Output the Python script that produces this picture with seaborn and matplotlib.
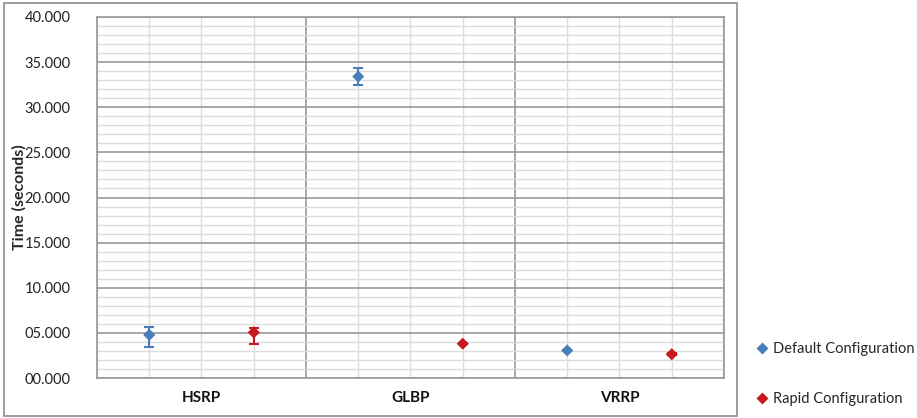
import matplotlib
matplotlib.use("Agg")
import matplotlib.pyplot as plt
from matplotlib.patches import Rectangle
from matplotlib.lines import Line2D
from matplotlib.ticker import MultipleLocator, FuncFormatter
import seaborn as sns
import pandas as pd
import numpy as np

# Failover times per protocol (seconds)
protocols = ["HSRP", "GLBP", "VRRP"]
configs = ["Default Configuration", "Rapid Configuration"]
default_mean = [4.78, 33.40, 3.05]
default_err_low = [1.40, 0.95, 0.10]
default_err_high = [0.90, 1.00, 0.10]
rapid_mean = [5.05, 3.80, 2.63]
rapid_err_low = [1.30, 0.08, 0.12]
rapid_err_high = [0.45, 0.08, 0.12]

colors = {"Default Configuration": "#4A7EBB", "Rapid Configuration": "#C8191E"}

rows = []
for i, p in enumerate(protocols):
    rows.append(dict(protocol=p, config=configs[0], pos=4 * i + 1,
                     time=default_mean[i], lo=default_err_low[i], hi=default_err_high[i]))
    rows.append(dict(protocol=p, config=configs[1], pos=4 * i + 3,
                     time=rapid_mean[i], lo=rapid_err_low[i], hi=rapid_err_high[i]))
df = pd.DataFrame(rows)

sns.set_style("white")
plt.rcParams["font.family"] = ["Lato", "DejaVu Sans"]

fig = plt.figure(figsize=(9.17, 4.18), dpi=100)
ax = fig.add_axes([97 / 917, 40 / 418, (724 - 97) / 917, (378 - 17) / 418])

# outer chart frame
fig.patches.append(Rectangle((4 / 917, 2 / 418), (737 - 4) / 917, (415 - 2) / 418,
                             transform=fig.transFigure, fill=False,
                             edgecolor="#8C8C8C", linewidth=1.2, zorder=0))

ax.set_xlim(0, 12)
ax.set_ylim(0, 40)

# gridlines
ax.yaxis.set_major_locator(MultipleLocator(5))
ax.yaxis.set_minor_locator(MultipleLocator(1))
ax.xaxis.set_major_locator(MultipleLocator(4))
ax.xaxis.set_minor_locator(MultipleLocator(1))
ax.grid(which="minor", color="#DCDCDC", linewidth=1.0, zorder=0)
ax.grid(which="major", color="#999999", linewidth=1.2, zorder=0)
ax.set_axisbelow(True)

for c in configs:
    sub = df[df.config == c]
    ax.errorbar(sub.pos, sub.time, yerr=[sub.lo, sub.hi], fmt="none",
                ecolor=colors[c], elinewidth=1.5, capsize=3.5, capthick=1.5, zorder=3)

sns.scatterplot(data=df, x="pos", y="time", hue="config", palette=colors,
                marker="D", s=38, edgecolor="none", legend=False, ax=ax, zorder=4)

ax.yaxis.set_major_formatter(FuncFormatter(lambda v, _: f"{v:06.3f}"))
ax.tick_params(axis="y", which="major", length=5, color="#8C8C8C", width=1,
               labelsize=10.5, pad=14, labelcolor="#222222")
ax.tick_params(axis="y", which="minor", length=0)
ax.tick_params(axis="x", which="both", length=0, labelbottom=False)

for i, p in enumerate(protocols):
    ax.text(4 * i + 2, -2.2, p, ha="center", va="center", fontsize=11,
            fontweight="bold", color="#111111")

ax.set_xlabel("")
ax.set_ylabel("Time (seconds)", fontsize=11.5, fontweight="bold")
ax.yaxis.set_label_coords(-0.112, 0.5)

for s in ax.spines.values():
    s.set_color("#999999")
    s.set_linewidth(1.2)
    s.set_visible(True)

handles = [Line2D([0], [0], marker="D", linestyle="none", markersize=6,
                  markerfacecolor=colors[c], markeredgecolor="none") for c in configs]
fig.legend(handles, configs, loc="center left", bbox_to_anchor=(745 / 917, 0.105),
           frameon=False, fontsize=10.5, handletextpad=0.2, labelspacing=2.45,
           handlelength=1.0, borderpad=0.2)

fig.savefig("out.png", dpi=100)
